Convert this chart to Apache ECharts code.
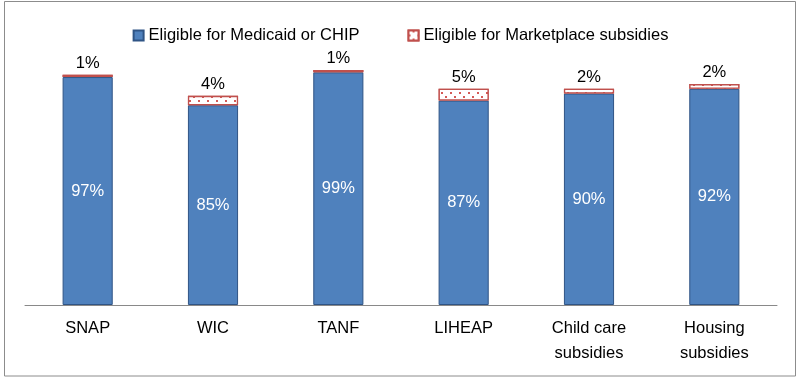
<!DOCTYPE html>
<html>
<head>
<meta charset="utf-8">
<script src="https://cdn.jsdelivr.net/npm/echarts@6/dist/echarts.min.js"></script>
<style>html,body{margin:0;padding:0;background:#fff}#c{width:801px;height:380px}</style>
</head>
<body>
<div id="c"></div>
<script>
var categories = ['SNAP', 'WIC', 'TANF', 'LIHEAP', 'Child care\nsubsidies', 'Housing\nsubsidies'];
var medicaidChip = [97, 85, 99, 87, 90, 92];
var marketplace = [1, 4, 1, 5, 2, 2];
var seriesNames = ['Eligible for Medicaid or CHIP', 'Eligible for Marketplace subsidies'];

var FONT = 'Liberation Sans';
var chart = echarts.init(document.getElementById('c'), null, {renderer: 'canvas'});
chart.setOption({
  backgroundColor: '#fff',
  animation: false,
  textStyle: {fontFamily: FONT},
  graphic: [{
    type: 'rect', shape: {x: 4.5, y: 1.5, width: 791, height: 374.5},
    style: {fill: 'none', stroke: '#8c8c8c', lineWidth: 1}, silent: true, z: 0
  }],
  legend: {
    top: 22, left: 'center', itemGap: 48, itemWidth: 10, itemHeight: 10, icon: 'rect',
    textStyle: {fontFamily: FONT, fontSize: 16.5, color: '#000'},
    data: seriesNames
  },
  grid: {left: 25, right: 24, top: 70, bottom: 75},
  xAxis: {
    type: 'category', data: categories,
    axisLine: {lineStyle: {color: '#898989', width: 1}},
    axisTick: {show: false},
    axisLabel: {fontFamily: FONT, fontSize: 16.5, color: '#000', margin: 11, lineHeight: 25, interval: 0, verticalAlign: 'top'}
  },
  yAxis: {type: 'value', min: 0, max: 100, show: false, splitLine: {show: false}},
  series: [{
    name: seriesNames[0], type: 'bar', stack: 'a', barWidth: '40%',
    data: medicaidChip,
    itemStyle: {color: '#4f81bd', borderColor: '#2f5485', borderWidth: 1},
    label: {show: true, position: 'inside', formatter: '{c}%', color: '#fff', fontFamily: FONT, fontSize: 16.5}
  }, {
    name: seriesNames[1], type: 'bar', stack: 'a', barWidth: '40%',
    data: marketplace,
    itemStyle: {
      color: '#fff', borderColor: '#c0504d', borderWidth: 1.3,
      decal: {symbol: 'rect', symbolSize: 1, color: '#d45a56', backgroundColor: '#fff',
        dashArrayX: [[2, 7], [0, 4, 2, 3]], dashArrayY: [2, 2], rotation: 0}
    },
    label: {show: true, position: 'top', distance: 3, formatter: '{c}%', color: '#000', fontFamily: FONT, fontSize: 16.5}
  }]
});
</script>
</body>
</html>
